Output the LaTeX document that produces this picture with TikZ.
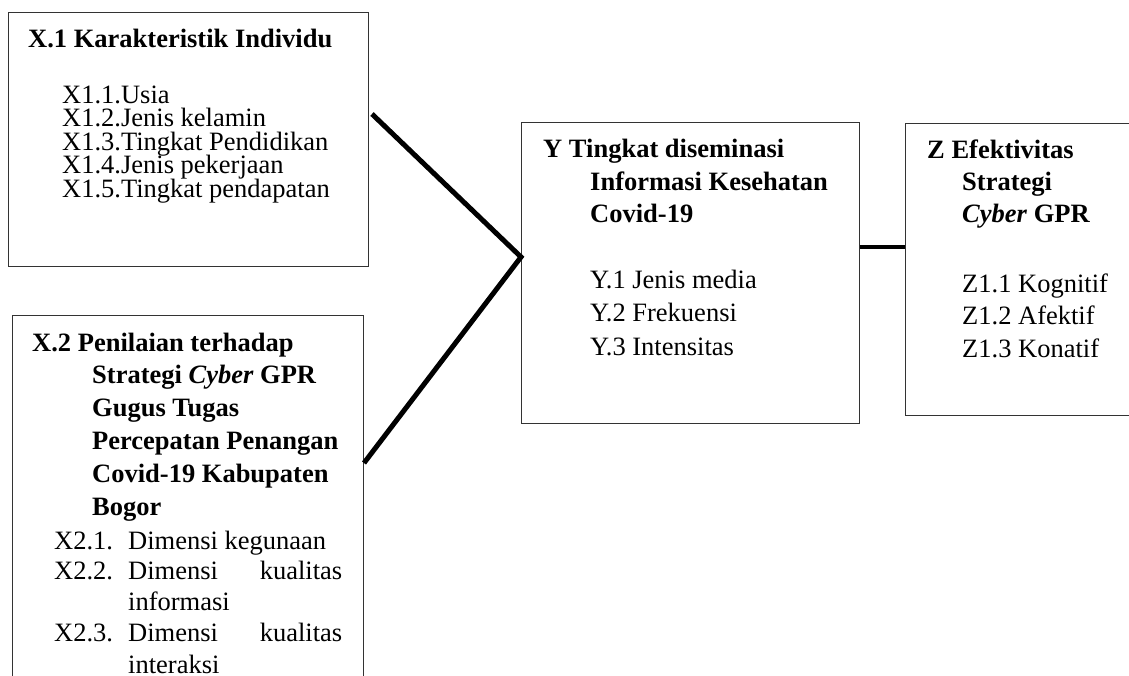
\documentclass[tikz,border=0pt]{standalone}
\usepackage{fontspec}
\setmainfont{Liberation Serif}
\begin{document}
\begin{tikzpicture}[x=1pt,y=-1pt,
  box/.style={draw=black!80, line width=1pt, rectangle, anchor=north west, inner sep=0pt},
  txt/.style={anchor=base west, inner sep=0pt, font=\fontsize{26.5}{30}\selectfont},
  btxt/.style={anchor=base west, inner sep=0pt, font=\fontsize{26.5}{30}\selectfont\bfseries},
  link/.style={line width=5pt, line join=miter}]
\useasboundingbox (0,0) rectangle (1129,675);
\clip (0,0) rectangle (1129,675);
% boxes
\node[box, minimum width=360pt, minimum height=254pt] (X1) at (8,12) {};
\node[box, minimum width=351pt, minimum height=420pt] (X2) at (12,315) {};
\node[box, minimum width=338pt, minimum height=301pt] (Y) at (521,122) {};
\node[box, minimum width=300pt, minimum height=292pt] (Z) at (905,123) {};
% X1 text
\node[btxt] (x1t) at (28,47) {X.1 Karakteristik Individu};
\node[txt] (x11) at (62,103) {X1.1.Usia};
\node[txt] (x12) at (62,126.5) {X1.2.Jenis kelamin};
\node[txt] (x13) at (62,150) {X1.3.Tingkat Pendidikan};
\node[txt] (x14) at (62,173.5) {X1.4.Jenis pekerjaan};
\node[txt] (x15) at (62,197) {X1.5.Tingkat pendapatan};
% X2 text
\node[btxt] (x2t) at (32,351) {X.2 Penilaian terhadap};
\node[btxt] (x2a) at (92,383) {Strategi \textit{Cyber} GPR};
\node[btxt] (x2b) at (92,416) {Gugus Tugas};
\node[btxt] (x2c) at (92,449) {Percepatan Penangan};
\node[btxt] (x2d) at (92,482) {Covid-19 Kabupaten};
\node[btxt] (x2e) at (92,515) {Bogor};
\node[txt] (x21n) at (54,549) {X2.1.};
\node[txt] (x21) at (128,549) {Dimensi kegunaan};
\node[txt] (x22n) at (54,579) {X2.2.};
\node[txt] (x22) at (128,579) {\makebox[214pt][s]{Dimensi kualitas}};
\node[txt] (x22b) at (128,610) {informasi};
\node[txt] (x23n) at (54,641) {X2.3.};
\node[txt] (x23) at (128,641) {\makebox[214pt][s]{Dimensi kualitas}};
\node[txt] (x23b) at (128,673) {interaksi};
% Y text
\node[btxt] (yt) at (543,157) {Y Tingkat diseminasi};
\node[btxt] (ya) at (590,190) {Informasi Kesehatan};
\node[btxt] (yb) at (590,222) {Covid-19};
\node[txt] (y1) at (590,288) {Y.1 Jenis media};
\node[txt] (y2) at (590,321.5) {Y.2 Frekuensi};
\node[txt] (y3) at (590,355) {Y.3 Intensitas};
% Z text
\node[btxt] (zt) at (927,158) {Z Efektivitas};
\node[btxt] (za) at (962,190) {Strategi};
\node[btxt] (zb) at (962,222) {\textit{Cyber} GPR};
\node[txt] (z1) at (962,292) {Z1.1 Kognitif};
\node[txt] (z2) at (962,324.5) {Z1.2 Afektif};
\node[txt] (z3) at (962,357) {Z1.3 Konatif};
% connectors
\coordinate (a) at (372,114);
\coordinate (b) at (364,463);
\coordinate (vy) at (0,257);
\coordinate (yz) at (0,247);
\draw[link] (a) -- (Y.west |- vy) -- (b);
\draw[line width=4.5pt] (Y.east |- yz) -- (Z.west |- yz);
\end{tikzpicture}
\end{document}
